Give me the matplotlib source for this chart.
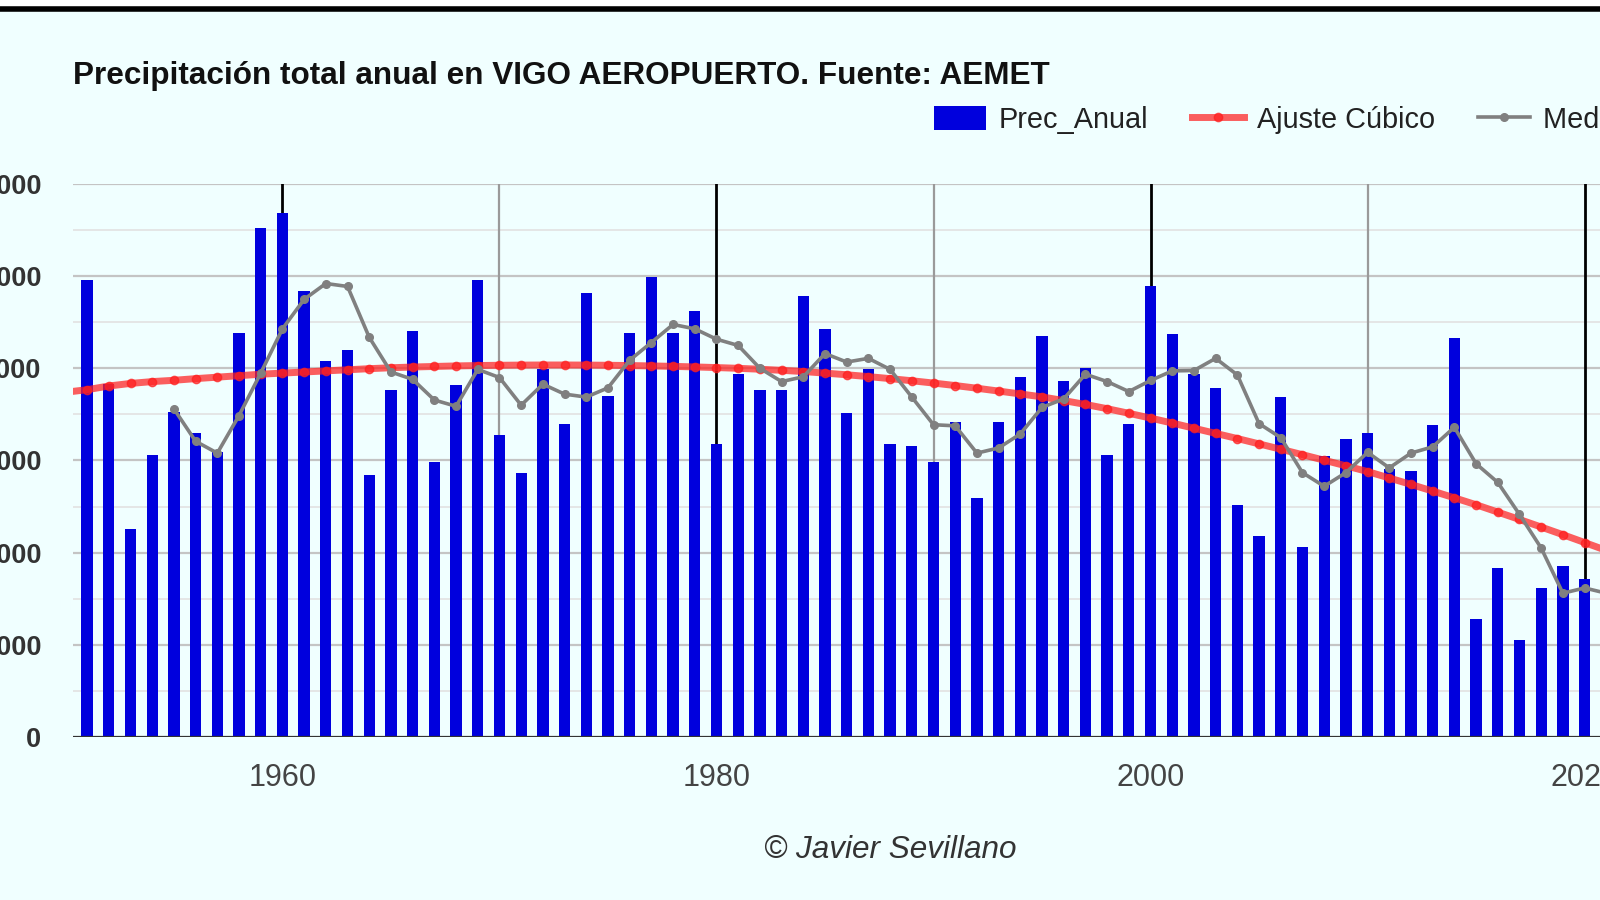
import matplotlib
matplotlib.use("Agg")
import matplotlib.pyplot as plt
from matplotlib.lines import Line2D
from matplotlib.patches import Patch, Rectangle

# annual precipitation (bars)
years = list(range(1951, 2021))
prec_anual = [4960, 3828, 2256, 3056, 3528, 3300, 3088, 4380, 5520, 5688,
              4840, 4080, 4204, 2840, 3768, 4400, 2988, 3816, 4960, 3280,
              2860, 3988, 3400, 4816, 3696, 4380, 4988, 4380, 4620, 3180,
              3940, 3768, 3768, 4788, 4428, 3520, 3988, 3180, 3156, 2988,
              3420, 2596, 3420, 3908, 4348, 3860, 4000, 3056, 3400, 4888,
              4376, 3940, 3788, 2520, 2176, 3688, 2056, 3048, 3228, 3300,
              2908, 2888, 3380, 4324, 1275, 1838, 1056, 1620, 1860, 1716]

# cubic fit (red)
fit_years = list(range(1950, 2022))
ajuste_cubico = [3740, 3768, 3808, 3836, 3856, 3870, 3888, 3904, 3920, 3936,
                 3948, 3960, 3972, 3984, 3996, 4006, 4014, 4020, 4026, 4030,
                 4033, 4035, 4036, 4036, 4035, 4033, 4030, 4026, 4021, 4015,
                 4008, 4000, 3990, 3978, 3965, 3948, 3930, 3910, 3888, 3865,
                 3840, 3813, 3784, 3753, 3722, 3690, 3650, 3608, 3562, 3512,
                 3460, 3406, 3350, 3294, 3238, 3180, 3122, 3063, 3003, 2942,
                 2880, 2810, 2740, 2668, 2595, 2520, 2440, 2360, 2278, 2195,
                 2110, 2024]

# moving mean (grey)
mm_years = list(range(1955, 2022))
media_movil = [3560, 3208, 3080, 3488, 3948, 4428, 4748, 4920, 4888, 4336,
               3960, 3880, 3656, 3588, 3988, 3900, 3600, 3828, 3720, 3688,
               3788, 4088, 4280, 4476, 4428, 4316, 4248, 4000, 3856, 3908,
               4160, 4068, 4108, 3988, 3688, 3388, 3376, 3080, 3136, 3288,
               3576, 3668, 3936, 3856, 3748, 3868, 3972, 3976, 4108, 3928,
               3400, 3248, 2868, 2720, 2868, 3088, 2920, 3080, 3148, 3360,
               2965, 2762, 2415, 2050, 1560, 1617, 1560]

y_ticks = [0, 1000, 2000, 3000, 4000, 5000, 6000]
x_major = [1960, 1980, 2000, 2020]
x_minor = [1970, 1990, 2010]

BG = "#F0FFFF"
fig = plt.figure(figsize=(16, 9), dpi=100, facecolor=BG)
ax = fig.add_axes([0.0459, 0.1811, 0.9541, 0.6145])
ax.set_facecolor(BG)

# gridlines
for v in range(500, 6000, 1000):
    ax.axhline(v, color="#E2E2E2", lw=1.2, zorder=0)
for v in y_ticks[1:]:
    ax.axhline(v, color="#C4C4C4", lw=1.6, zorder=0)
for v in x_minor:
    ax.axvline(v, color="#9A9A9A", lw=1.6, zorder=0.5)
for v in x_major:
    ax.axvline(v, color="#000000", lw=2.0, zorder=0.5)

ax.bar(years, prec_anual, width=0.52, color="#0000DD", zorder=2)
ax.plot(fit_years, ajuste_cubico, color="#FF2020", alpha=0.72, lw=5,
        marker="o", ms=6, zorder=3)
ax.plot(mm_years, media_movil, color="#808080", lw=2.6,
        marker="o", ms=5.5, zorder=4)
ax.axhline(0, color="#333333", lw=1.6, zorder=5)

ax.set_xlim(1950.37, 2020.71)
ax.set_ylim(0, 6000)
for s in ax.spines.values():
    s.set_visible(False)

ax.set_yticks(y_ticks)
ax.set_yticklabels([str(v) for v in y_ticks], fontweight="bold",
                   fontsize=19.5, color="#333333", family="Liberation Sans")
ax.set_xticks(x_major)
ax.set_xticklabels([str(v) for v in x_major], fontsize=22,
                   color="#444444", family="Liberation Sans")
ax.tick_params(axis="y", length=0, pad=23)
ax.tick_params(axis="x", length=0, pad=19)

# title and credits
fig.text(0.0459, 1 - 76 / 900,
         "Precipitación total anual en VIGO AEROPUERTO. Fuente: AEMET",
         fontsize=22.7, fontweight="bold", color="#111111",
         family="Liberation Sans", va="center", ha="left")
fig.text(890 / 1600, 1 - 850 / 900, "© Javier Sevillano", fontsize=22.7,
         style="italic", color="#333333", family="Liberation Sans",
         ha="center", va="center")

# legend
handles = [Patch(facecolor="#0000DD", edgecolor="none"),
           Line2D([], [], color="#FF2020", alpha=0.72, lw=5, marker="o", ms=6),
           Line2D([], [], color="#808080", lw=2.6, marker="o", ms=5.5)]
labels = ["Prec_Anual", "Ajuste Cúbico", "Media móvil 5 años"]
leg = fig.legend(handles, labels, ncol=3, loc="center left",
                 bbox_to_anchor=(934 / 1600, 1 - 120 / 900),
                 frameon=False, prop={"family": "Liberation Sans", "size": 20.8},
                 handlelength=1.8, handleheight=0.9, handletextpad=0.45,
                 columnspacing=1.5, borderpad=0, borderaxespad=0)
for t in leg.get_texts():
    t.set_color("#222222")

# screenshot frame at top
fig.patches.append(Rectangle((0, 1 - 8 / 900), 1, 8 / 900, transform=fig.transFigure,
                             facecolor="white", edgecolor="none", zorder=0))
fig.lines.append(Line2D([0, 1], [1 - 9 / 900, 1 - 9 / 900], transform=fig.transFigure,
                        color="black", lw=4))

fig.savefig("out.png", dpi=100, facecolor=BG)
